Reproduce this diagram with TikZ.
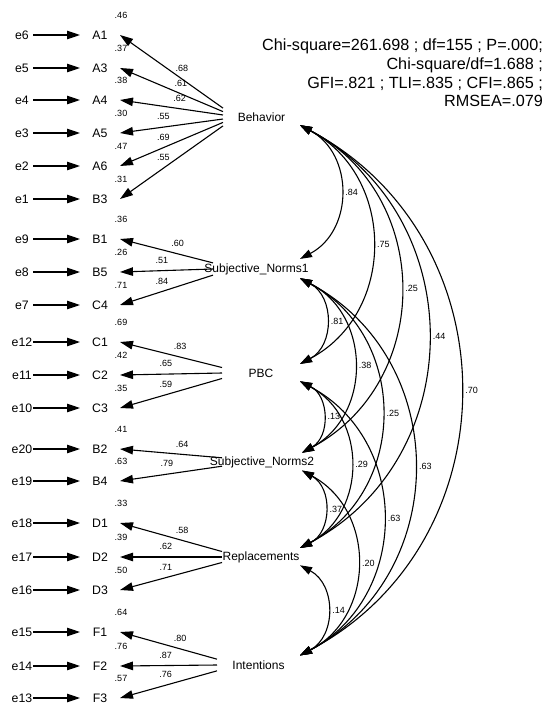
\documentclass[tikz,border=0pt]{standalone}
\usepackage{fontspec}
\setmainfont{Liberation Sans}
\usetikzlibrary{arrows.meta}
\pgfdeclarelayer{edgelayer}
\pgfdeclarelayer{nodelayer}
\pgfsetlayers{edgelayer,nodelayer,main}
\newcommand{\latname}[1]{\makebox[0pt]{#1}}
\tikzstyle{errvar}=[inner sep=0pt, outer sep=0pt, minimum width=22pt, font=\fontsize{12.3}{14}\selectfont]
\tikzstyle{obsvar}=[inner sep=0pt, outer sep=0pt, minimum width=40pt, minimum height=16pt, font=\fontsize{12.3}{14}\selectfont]
\tikzstyle{latent}=[inner sep=0pt, outer sep=0pt, minimum height=24pt, font=\fontsize{12}{14}\selectfont]
\tikzstyle{rsq}=[inner sep=0pt, font=\fontsize{9}{10}\selectfont, xshift=21pt, yshift=20pt]
\tikzstyle{ldlab}=[inner sep=0.5pt, font=\fontsize{9}{10}\selectfont, above=6.2pt]
\tikzstyle{covlab}=[inner sep=0.5pt, font=\fontsize{9}{10}\selectfont, right=4pt]
\tikzstyle{fitstat}=[anchor=north east, align=right, inner sep=0pt, font=\fontsize{16.2}{18.8}\selectfont]
\tikzstyle{errarrow}=[-{Triangle[length=13pt,width=8.5pt]}, line width=1.1pt]
\tikzstyle{ldarrow}=[-{Triangle[length=13pt,width=8.5pt]}, line width=1.1pt]
\tikzstyle{covarrow}=[{Triangle[length=12pt,width=8pt]}-{Triangle[length=12pt,width=8pt]}, line width=1.1pt, bend left=62, looseness=1.17]

\begin{document}
\begin{tikzpicture}[x=1pt, y=-1pt]
	\useasboundingbox (0,0) rectangle (547,705);
	\begin{pgfonlayer}{nodelayer}
		% errors
		\node [style=errvar] (e6) at (22,35) {e6};
		\node [style=errvar] (e5) at (22,68) {e5};
		\node [style=errvar] (e4) at (22,100) {e4};
		\node [style=errvar] (e3) at (22,133) {e3};
		\node [style=errvar] (e2) at (22,166) {e2};
		\node [style=errvar] (e1) at (22,199) {e1};
		\node [style=errvar] (e9) at (22,239) {e9};
		\node [style=errvar] (e8) at (22,272) {e8};
		\node [style=errvar] (e7) at (22,305) {e7};
		\node [style=errvar] (e12) at (22,342) {e12};
		\node [style=errvar] (e11) at (22,375) {e11};
		\node [style=errvar] (e10) at (22,408) {e10};
		\node [style=errvar] (e20) at (22,449) {e20};
		\node [style=errvar] (e19) at (22,481) {e19};
		\node [style=errvar] (e18) at (22,523) {e18};
		\node [style=errvar] (e17) at (22,557) {e17};
		\node [style=errvar] (e16) at (22,590) {e16};
		\node [style=errvar] (e15) at (22,632) {e15};
		\node [style=errvar] (e14) at (22,666) {e14};
		\node [style=errvar] (e13) at (22,698) {e13};
		% observed
		\node [style=obsvar, label={[style=rsq]center:.46}] (A1) at (100,35) {A1};
		\node [style=obsvar, label={[style=rsq]center:.37}] (A3) at (100,68) {A3};
		\node [style=obsvar, label={[style=rsq]center:.38}] (A4) at (100,100) {A4};
		\node [style=obsvar, label={[style=rsq]center:.30}] (A5) at (100,133) {A5};
		\node [style=obsvar, label={[style=rsq]center:.47}] (A6) at (100,166) {A6};
		\node [style=obsvar, label={[style=rsq]center:.31}] (B3) at (100,199) {B3};
		\node [style=obsvar, label={[style=rsq]center:.36}] (B1) at (100,239) {B1};
		\node [style=obsvar, label={[style=rsq]center:.26}] (B5) at (100,272) {B5};
		\node [style=obsvar, label={[style=rsq]center:.71}] (C4) at (100,305) {C4};
		\node [style=obsvar, label={[style=rsq]center:.69}] (C1) at (100,342) {C1};
		\node [style=obsvar, label={[style=rsq]center:.42}] (C2) at (100,375) {C2};
		\node [style=obsvar, label={[style=rsq]center:.35}] (C3) at (100,408) {C3};
		\node [style=obsvar, label={[style=rsq]center:.41}] (B2) at (100,449) {B2};
		\node [style=obsvar, label={[style=rsq]center:.63}] (B4) at (100,481) {B4};
		\node [style=obsvar, label={[style=rsq]center:.33}] (D1) at (100,523) {D1};
		\node [style=obsvar, label={[style=rsq]center:.39}] (D2) at (100,557) {D2};
		\node [style=obsvar, label={[style=rsq]center:.50}] (D3) at (100,590) {D3};
		\node [style=obsvar, label={[style=rsq]center:.64}] (F1) at (100,632) {F1};
		\node [style=obsvar, label={[style=rsq]center:.76}] (F2) at (100,666) {F2};
		\node [style=obsvar, label={[style=rsq]center:.57}] (F3) at (100,698) {F3};
		% latents
		\node [style=latent, minimum width=77pt] (Beh) at (261.5,117) {\latname{Behavior}};
		\node [style=latent, minimum width=87pt] (SN1) at (256.5,269) {\latname{Subjective\_Norms1}};
		\node [style=latent, minimum width=78pt] (PBC) at (261,373) {\latname{PBC}};
		\node [style=latent, minimum width=80pt] (SN2) at (262,462) {\latname{Subjective\_Norms2}};
		\node [style=latent, minimum width=78pt] (Rep) at (261,557) {\latname{Replacements}};
		\node [style=latent, minimum width=83pt] (Int) at (258.5,665) {\latname{Intentions}};
		% fit
		\node [style=fitstat] (Fit) at (543,38.5) {Chi-square=261.698 ; df=155 ; P=.000;\\Chi-square/df=1.688 ;\\GFI=.821 ; TLI=.835 ; CFI=.865 ;\\RMSEA=.079};
	\end{pgfonlayer}
	\begin{pgfonlayer}{edgelayer}
		\draw [style=errarrow] (e6) to (A1);
		\draw [style=errarrow] (e5) to (A3);
		\draw [style=errarrow] (e4) to (A4);
		\draw [style=errarrow] (e3) to (A5);
		\draw [style=errarrow] (e2) to (A6);
		\draw [style=errarrow] (e1) to (B3);
		\draw [style=errarrow] (e9) to (B1);
		\draw [style=errarrow] (e8) to (B5);
		\draw [style=errarrow] (e7) to (C4);
		\draw [style=errarrow] (e12) to (C1);
		\draw [style=errarrow] (e11) to (C2);
		\draw [style=errarrow] (e10) to (C3);
		\draw [style=errarrow] (e20) to (B2);
		\draw [style=errarrow] (e19) to (B4);
		\draw [style=errarrow] (e18) to (D1);
		\draw [style=errarrow] (e17) to (D2);
		\draw [style=errarrow] (e16) to (D3);
		\draw [style=errarrow] (e15) to (F1);
		\draw [style=errarrow] (e14) to (F2);
		\draw [style=errarrow] (e13) to (F3);
		% loadings
		\draw [style=ldarrow] (Beh.167) to node[style=ldlab, pos=0.40] {.68} (A1.east);
		\draw [style=ldarrow] (Beh.172) to node[style=ldlab, pos=0.41] {.61} (A3.east);
		\draw [style=ldarrow] (Beh.177) to node[style=ldlab, pos=0.42] {.62} (A4.east);
		\draw [style=ldarrow] (Beh.183) to node[style=ldlab, pos=0.58] {.55} (A5.east);
		\draw [style=ldarrow] (Beh.188) to node[style=ldlab, pos=0.58] {.69} (A6.east);
		\draw [style=ldarrow] (Beh.193) to node[style=ldlab, pos=0.58] {.55} (B3.east);
		\draw [style=ldarrow] (SN1.172) to node[style=ldlab, pos=0.38] {.60} (B1.east);
		\draw [style=ldarrow] (SN1.180) to node[style=ldlab, pos=0.55] {.51} (B5.east);
		\draw [style=ldarrow] (SN1.188) to node[style=ldlab, pos=0.55] {.84} (C4.east);
		\draw [style=ldarrow] (PBC.172) to node[style=ldlab, pos=0.41] {.83} (C1.east);
		\draw [style=ldarrow] (PBC.180) to node[style=ldlab, pos=0.55] {.65} (C2.east);
		\draw [style=ldarrow] (PBC.188) to node[style=ldlab, pos=0.55] {.59} (C3.east);
		\draw [style=ldarrow] (SN2.174) to node[style=ldlab, pos=0.39] {.64} (B2.east);
		\draw [style=ldarrow] (SN2.186) to node[style=ldlab, pos=0.54] {.79} (B4.east);
		\draw [style=ldarrow] (Rep.172) to node[style=ldlab, pos=0.39] {.58} (D1.east);
		\draw [style=ldarrow] (Rep.180) to node[style=ldlab, pos=0.55] {.62} (D2.east);
		\draw [style=ldarrow] (Rep.188) to node[style=ldlab, pos=0.55] {.71} (D3.east);
		\draw [style=ldarrow] (Int.172) to node[style=ldlab, pos=0.38] {.80} (F1.east);
		\draw [style=ldarrow] (Int.180) to node[style=ldlab, pos=0.53] {.87} (F2.east);
		\draw [style=ldarrow] (Int.188) to node[style=ldlab, pos=0.53] {.76} (F3.east);
		% covariances
		\draw [style=covarrow] (Beh.-12) to node[style=covlab] {.84} (SN1.13);
		\draw [style=covarrow] (Beh.-12) to node[style=covlab] {.75} (PBC.13);
		\draw [style=covarrow] (Beh.-12) to node[style=covlab] {.25} (SN2.13);
		\draw [style=covarrow] (Beh.-12) to node[style=covlab] {.44} (Rep.13);
		\draw [style=covarrow] (Beh.-12) to node[style=covlab] {.70} (Int.13);
		\draw [style=covarrow] (SN1.-12) to node[style=covlab] {.81} (PBC.13);
		\draw [style=covarrow] (SN1.-12) to node[style=covlab] {.38} (SN2.13);
		\draw [style=covarrow] (SN1.-12) to node[style=covlab] {.25} (Rep.13);
		\draw [style=covarrow] (SN1.-12) to node[style=covlab] {.63} (Int.13);
		\draw [style=covarrow] (PBC.-12) to node[style=covlab] {.13} (SN2.13);
		\draw [style=covarrow] (PBC.-12) to node[style=covlab] {.29} (Rep.13);
		\draw [style=covarrow] (PBC.-12) to node[style=covlab] {.63} (Int.13);
		\draw [style=covarrow] (SN2.-12) to node[style=covlab] {.37} (Rep.13);
		\draw [style=covarrow] (SN2.-12) to node[style=covlab] {.20} (Int.13);
		\draw [style=covarrow] (Rep.-12) to node[style=covlab] {.14} (Int.13);
	\end{pgfonlayer}
\end{tikzpicture}
\end{document}
